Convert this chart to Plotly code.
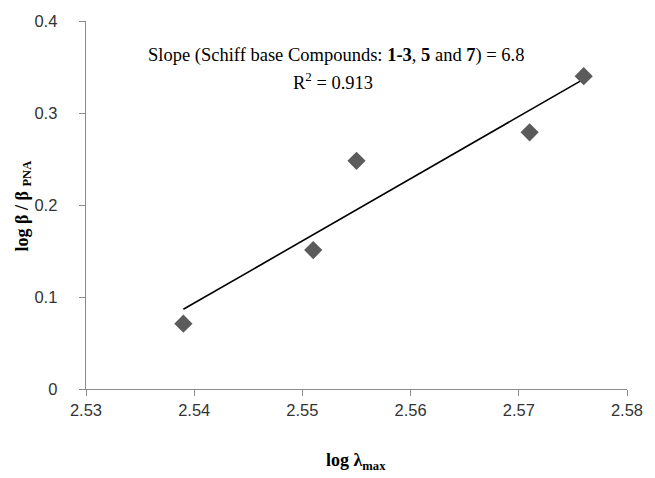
import numpy as np
import plotly.graph_objects as go

log_lambda_max = [2.539, 2.551, 2.555, 2.571, 2.576]
log_beta_ratio = [0.071, 0.151, 0.248, 0.279, 0.340]
x_ticks = [2.53, 2.54, 2.55, 2.56, 2.57, 2.58]
y_ticks = [0, 0.1, 0.2, 0.3, 0.4]
y_tick_text = ["0", "0.1", "0.2", "0.3", "0.4"]
x_range = [2.53, 2.58]
y_range = [0, 0.4]

slope, intercept = np.polyfit(log_lambda_max, log_beta_ratio, 1)
fit_x = [min(log_lambda_max), max(log_lambda_max)]
fit_y = [slope * v + intercept for v in fit_x]

fig = go.Figure()
fig.add_trace(go.Scatter(x=fit_x, y=fit_y, mode="lines",
                         line=dict(color="black", width=1.6), showlegend=False))
fig.add_trace(go.Scatter(x=log_lambda_max, y=log_beta_ratio, mode="markers",
                         marker=dict(symbol="diamond", size=14, color="#5b5b5b"),
                         showlegend=False))

tickfont = dict(family="Liberation Sans, Arial, sans-serif", size=16.5, color="#333333")
NB = "\u00a0"
fig.update_xaxes(range=x_range, tickvals=x_ticks,
                 ticktext=[f"{v:.2f}" for v in x_ticks],
                 showgrid=False, zeroline=False, showline=True, linecolor="#8c8c8c", linewidth=1,
                 ticks="outside", ticklen=6, tickwidth=1, tickcolor="#8c8c8c", tickfont=tickfont)
fig.update_yaxes(range=y_range, tickvals=y_ticks,
                 ticktext=[t + NB * 4 for t in y_tick_text],
                 showgrid=False, zeroline=False, showline=True, linecolor="#8c8c8c", linewidth=1,
                 ticks="outside", ticklen=6, tickwidth=1, tickcolor="#8c8c8c", tickfont=tickfont)

serif = "Liberation Serif, Times New Roman, serif"
fig.add_annotation(xref="paper", yref="paper", x=(341 - 86) / 550, y=(389 - 55) / 369,
                   text="Slope (Schiff base Compounds: <b>1-3</b>, <b>5</b> and <b>7</b>) = 6.8",
                   showarrow=False, font=dict(family=serif, size=18.5, color="black"),
                   xanchor="center", yanchor="middle")
fig.add_annotation(xref="paper", yref="paper", x=(337 - 86) / 550, y=(389 - 80) / 369,
                   text="R<sup>2</sup> = 0.913",
                   showarrow=False, font=dict(family=serif, size=18.5, color="black"),
                   xanchor="center", yanchor="middle")
fig.add_annotation(xref="paper", yref="paper", x=(22 - 86) / 550, y=(389 - 206) / 369,
                   text="<b>log β / β <sub>PNA</sub></b>", textangle=-90,
                   showarrow=False, font=dict(family=serif, size=18, color="black"),
                   xanchor="center", yanchor="middle")
fig.add_annotation(xref="paper", yref="paper", x=(360 - 86) / 550, y=(389 - 475) / 369,
                   text="<b>log λ<sub>max</sub></b>",
                   showarrow=False, font=dict(family=serif, size=18, color="black"),
                   xanchor="center", yanchor="bottom")

fig.update_layout(width=655, height=478, margin=dict(l=86, r=19, t=20, b=89),
                  paper_bgcolor="white", plot_bgcolor="white")

fig.write_html("out.html", config={"displayModeBar": False})
with open("out.html", encoding="utf-8") as f:
    html = f.read()
html = html.replace("<head>", "<head><style>html,body{margin:0;padding:0;overflow:hidden;}</style>", 1)
with open("out.html", "w", encoding="utf-8") as f:
    f.write(html)
